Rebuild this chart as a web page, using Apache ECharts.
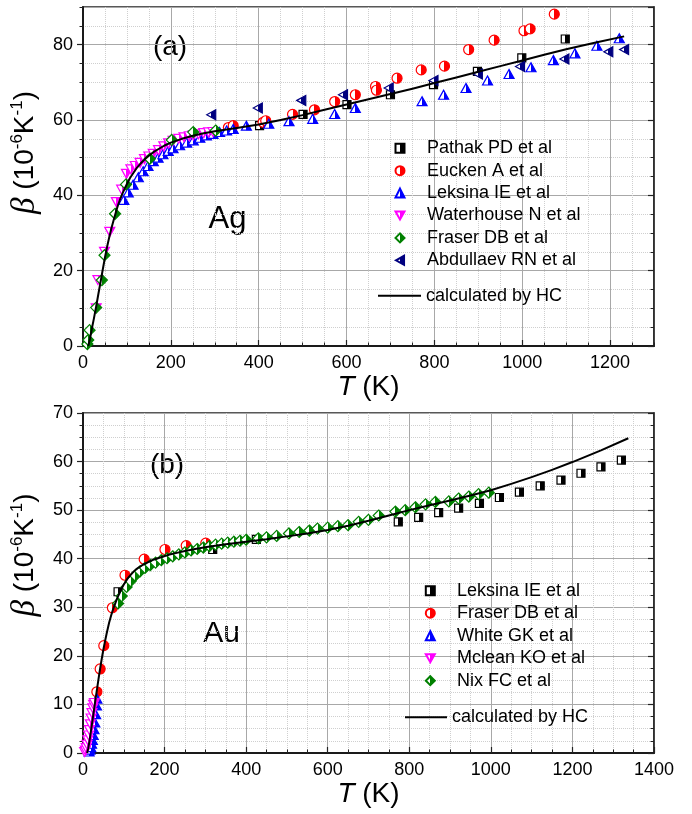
<!DOCTYPE html>
<html><head><meta charset="utf-8">
<script src="https://cdn.jsdelivr.net/npm/echarts@6/dist/echarts.min.js"></script>
<style>html,body{margin:0;padding:0;background:#fff}#c{width:692px;height:814px}</style>
</head><body><div id="c"></div>
<script>
// ---------- Panel (a): Ag ----------
const agPathak = [[402,58.5],[501,61.5],[601,64.1],[700,66.7],[798,69.4],[898,72.9],[999,76.5],[1098,81.5]];
const agEucken = [[331,58.0],[342,58.5],[410,59.4],[416,59.8],[477,61.5],[527,62.7],[573,64.9],[620,66.7],[666,68.9],[668,67.9],[715,71.1],[770,73.3],[823,74.3],[878,78.7],[936,81.2],[1004,83.7],[1018,84.2],[1073,88.1]];
const agLeksina = [[93,38.8],[103,40.8],[114,42.8],[126,44.8],[137,46.4],[148,47.8],[160,49.1],[171,50.0],[182,50.9],[194,51.8],[205,52.5],[220,53.3],[236,54.0],[251,54.6],[266,55.3],[281,55.9],[296,56.3],[311,56.8],[327,57.2],[342,57.6],[372,58.5],[423,59.0],[469,59.7],[523,60.3],[573,61.6],[620,63.2],[772,65.0],[821,66.7],[872,68.5],[921,70.5],[970,72.2],[1020,74.0],[1071,75.9],[1120,77.7],[1170,79.7],[1221,81.7]];
const agWaterhouse = [[30,10.0],[34,17.5],[49,25.0],[61,30.3],[76,38.2],[88,41.5],[99,45.7],[109,46.9],[119,47.8],[130,48.6],[140,49.6],[150,50.3],[160,51.0],[172,52.0],[184,53.0],[195,53.8],[205,54.5],[218,55.0],[230,55.4],[242,55.7],[251,55.9],[263,56.2],[275,56.5],[286,56.7],[296,56.8]];
const agFraser = [[10,0.5],[12,1.6],[15,4.2],[30,10.2],[43,17.5],[49,24.1],[73,35.1],[98,42.9],[152,49.7],[202,54.7],[251,56.8],[302,57.2]];
const agAbdullaev = [[292,61.4],[398,63.2],[497,65.2],[592,66.7],[696,68.5],[798,70.5],[899,72.2],[995,74.2],[1096,76.2],[1196,78.1],[1232,78.7]];
const agHC = [[12,0],[16,2],[20,4.5],[25,7.4],[30,10.5],[35,13.8],[40,17],[45,20.3],[50,23.5],[55,26.4],[60,29],[65,31.4],[70,33.5],[75,35.6],[80,37.5],[85,39.1],[90,40.5],[95,41.8],[100,43],[107,44.6],[115,46],[122,47.2],[130,48.3],[140,49.5],[150,50.5],[162,51.6],[175,52.5],[187,53.3],[200,54],[225,55],[250,55.8],[275,56.5],[300,57],[350,57.9],[400,58.8],[450,60],[500,61.3],[550,62.7],[600,64.1],[650,65.5],[700,66.9],[750,68.3],[800,69.8],[850,71.3],[900,72.8],[950,74.3],[1000,75.8],[1050,77.3],[1100,78.8],[1165,80.5],[1232,82.2]];

// ---------- Panel (b): Au ----------
const auLeksina = [[86,33.2],[318,41.9],[425,44.0],[773,47.6],[823,48.5],[872,49.5],[921,50.4],[972,51.4],[1021,52.6],[1070,53.7],[1121,55.0],[1172,56.2],[1221,57.6],[1270,58.9],[1320,60.3]];
const auFraser = [[34,12.6],[42,17.3],[51,22.1],[72,29.9],[103,36.6],[150,39.9],[201,41.9],[253,42.7],[301,43.2]];
const auWhite = [[15,0.3],[17,0.7],[19,1.2],[21,1.9],[23,2.7],[25,3.7],[27,4.9],[29,6.3],[31,8.0],[33,9.8],[34,11.2]];
const auMclean = [[4,0.2],[6,0.5],[8,1.0],[10,1.7],[12,2.6],[14,3.6],[16,4.7],[18,5.9],[20,7.1],[22,8.2],[24,9.2],[26,9.9],[28,10.3]];
const auNix = [[86,30.8],[95,32.3],[107,34.2],[117,35.4],[128,36.5],[140,37.4],[152,38.1],[165,38.7],[178,39.2],[192,39.7],[206,40.1],[220,40.5],[235,40.9],[250,41.3],[265,41.7],[280,42.0],[295,42.3],[310,42.6],[325,42.9],[340,43.1],[355,43.3],[370,43.5],[385,43.7],[400,43.9],[430,44.2],[450,44.4],[475,44.7],[505,45.2],[530,45.5],[555,45.8],[575,46.2],[600,46.4],[625,46.7],[650,46.9],[676,47.6],[700,48.0],[725,48.9],[766,49.7],[790,50.0],[815,50.6],[840,51.2],[864,51.7],[897,51.8],[921,52.4],[946,52.8],[970,53.3],[995,53.6]];
const auHC = [[10,0],[13,1],[16,2.5],[20,4.8],[24,7.1],[28,9.5],[32,11.8],[35,13.5],[38,15.2],[42,17.4],[46,19.4],[50,21.3],[54,23],[58,24.6],[64,26.8],[70,28.6],[75,29.9],[80,31],[85,32.1],[90,33],[95,33.9],[100,34.7],[110,36],[120,37],[130,37.8],[140,38.4],[150,38.9],[160,39.3],[170,39.7],[180,40],[195,40.4],[210,40.8],[230,41.2],[250,41.6],[275,42],[303,42.4],[350,43],[400,43.5],[450,44],[500,44.6],[550,45.2],[600,45.9],[650,46.8],[700,47.8],[750,48.9],[800,50],[850,51],[900,52],[950,53],[1000,54.1],[1050,55.4],[1100,56.8],[1150,58.3],[1200,59.9],[1270,62.3],[1337,64.8]];

// tick settings
const agXTicks = {max:1300, major:200, minor:50};
const agYTicks = {max:90, major:20, minor:5};
const auXTicks = {max:1400, major:200, minor:50};
const auYTicks = {max:70, major:10, minor:2.5};

const FONT = 'Liberation Sans';
const chart = echarts.init(document.getElementById('c'));

function half(c){
  return new echarts.graphic.LinearGradient(0,0,1,0,[
    {offset:0,color:'#fff'},{offset:0.5,color:'#fff'},{offset:0.5,color:c},{offset:1,color:c}]);
}
const SQ='rect', CI='circle', TU='triangle', DI='diamond';
const TD='path://M0,0L10,0L5,9Z', TL='path://M0,5L9,0L9,10Z';
const LINEICON='path://M0,0L43,0L43,2L0,2Z';

const grids = [
  {left:83, top:7, width:571, height:339},
  {left:83, top:413, width:571, height:340}
];
grids.forEach(g=>{g.show=true; g.borderColor='#222'; g.borderWidth=1.5; g.backgroundColor='transparent';});

const xName = '{i|T}{n| (K)}';
const yName = '{b|β}{n| (10}{s|-6}{n|K}{s|-1}{n|)}';
const xRich = {i:{fontFamily:FONT,fontStyle:'italic',fontSize:28,color:'#000'}, n:{fontFamily:FONT,fontSize:28,color:'#000'}};
const yRich = {b:{fontFamily:'Liberation Serif',fontStyle:'italic',fontSize:33,color:'#000',lineHeight:34},
  n:{fontFamily:FONT,fontSize:28,color:'#000',lineHeight:34},
  s:{fontFamily:FONT,fontSize:17,color:'#000',lineHeight:17,verticalAlign:'top'}};
const plain = v => String(v);

const xAxes=[], yAxes=[];
function addAxes(gi, xt, yt, yShift){
  xAxes.push({type:'value', gridIndex:gi, position:'bottom', min:0, max:xt.max, interval:xt.minor,
    axisLine:{show:false,onZero:false}, axisLabel:{show:false},
    axisTick:{show:true,inside:true,length:3.5,lineStyle:{color:'#222',width:1}},
    splitLine:{show:true,lineStyle:{color:'#cfcfcf',type:'dotted',width:1}}});
  xAxes.push({type:'value', gridIndex:gi, position:'bottom', min:0, max:xt.max, interval:xt.major,
    axisLine:{show:true,onZero:false,lineStyle:{color:'#1a1a1a',width:2}},
    axisTick:{show:true,inside:true,length:6,lineStyle:{color:'#222',width:1.2}},
    axisLabel:{show:true,margin:8,fontFamily:FONT,fontSize:18,color:'#000',formatter:plain,showMaxLabel: xt.max % xt.major === 0},
    splitLine:{show:true,lineStyle:{color:'#a8a8a8',width:1}},
    name:xName, nameLocation:'middle', nameGap:16, nameTextStyle:{rich:xRich}});
  yAxes.push({type:'value', gridIndex:gi, position:'left', min:0, max:yt.max, interval:yt.minor,
    axisLine:{show:false,onZero:false}, axisLabel:{show:false},
    axisTick:{show:true,inside:false,length:3.5,lineStyle:{color:'#222',width:1}},
    splitLine:{show:true,lineStyle:{color:'#cfcfcf',type:'dotted',width:1}}});
  yAxes.push({type:'value', gridIndex:gi, position:'left', min:0, max:yt.max, interval:yt.major,
    axisLine:{show:true,onZero:false,lineStyle:{color:'#1a1a1a',width:2}},
    axisTick:{show:true,inside:false,length:6,lineStyle:{color:'#222',width:1.2}},
    axisLabel:{show:true,margin:10,fontFamily:FONT,fontSize:18,color:'#000',formatter:plain,showMaxLabel: yt.max % yt.major === 0},
    splitLine:{show:true,lineStyle:{color:'#a8a8a8',width:1}},
    name:yName, nameLocation:'middle', nameGap:29, nameRotate:90,
    nameTextStyle:{rich:yRich, padding:[0,0,0,yShift]}});
  yAxes.push({type:'value', gridIndex:gi, position:'right', min:0, max:yt.max, interval:yt.minor,
    axisLine:{show:false,onZero:false}, axisLabel:{show:false}, splitLine:{show:false},
    axisTick:{show:true,inside:true,length:3.5,lineStyle:{color:'#222',width:1}}});
  yAxes.push({type:'value', gridIndex:gi, position:'right', min:0, max:yt.max, interval:yt.major,
    axisLine:{show:true,onZero:false,lineStyle:{color:'#222',width:1.5}}, axisLabel:{show:false}, splitLine:{show:false},
    axisTick:{show:true,inside:true,length:6,lineStyle:{color:'#222',width:1.2}}});
}
addAxes(0, agXTicks, agYTicks, 48);
addAxes(1, auXTicks, auYTicks, 56);

function sc(name, data, sym, size, color, gi){
  return {type:'scatter', name, data, symbol:sym, symbolSize:size,
    xAxisIndex: gi*2+1, yAxisIndex: gi*4+1,
    itemStyle:{color:half(color), borderColor:color, borderWidth:1.2, opacity:1}, z:3};
}
function ln(name, data, gi){
  return {type:'line', name, data, showSymbol:false, symbol:'none', smooth:false,
    xAxisIndex: gi*2+1, yAxisIndex: gi*4+1,
    lineStyle:{color:'#000', width:2, join:'round'}, itemStyle:{color:'#000'}, z:5};
}

const series = [
  sc('a:Pathak PD et al', agPathak, SQ, 8, '#000000', 0),
  sc('a:Eucken A et al', agEucken, CI, 10, '#ff0000', 0),
  sc('a:Leksina IE et al', agLeksina, TU, [10,9], '#0000ff', 0),
  sc('a:Waterhouse N et al', agWaterhouse, TD, [10,9], '#ff00ff', 0),
  sc('a:Fraser DB et al', agFraser, DI, [11,11], '#008000', 0),
  sc('a:Abdullaev RN et al', agAbdullaev, TL, [9,10], '#000080', 0),
  ln('a:calculated by HC', agHC, 0),
  sc('b:Leksina IE et al', auLeksina, SQ, 8, '#000000', 1),
  sc('b:Fraser DB et al', auFraser, CI, 10, '#ff0000', 1),
  sc('b:White GK et al', auWhite, TU, [10,9], '#0000ff', 1),
  sc('b:Mclean KO et al', auMclean, TD, [10,9], '#ff00ff', 1),
  sc('b:Nix FC et al', auNix, DI, [11,11], '#008000', 1),
  ln('b:calculated by HC', auHC, 1)
];

const legText = {fontFamily:FONT, fontSize:18, lineHeight:20, color:'#000'};
const strip = n => n.slice(2);
const legend = [
  {data:['a:Pathak PD et al','a:Eucken A et al','a:Leksina IE et al','a:Waterhouse N et al','a:Fraser DB et al','a:Abdullaev RN et al'],
   orient:'vertical', left:394.5, top:138.3, itemWidth:9, itemHeight:9, itemGap:2.4, padding:0,
   textStyle:Object.assign({padding:[0,0,0,17.5]}, legText), formatter:strip, selectedMode:false},
  {data:[{name:'a:calculated by HC', icon:LINEICON}], orient:'vertical', left:378, top:285.7, itemWidth:43, itemHeight:20, padding:0,
   textStyle:legText, formatter:strip, selectedMode:false},
  {data:['b:Leksina IE et al','b:Fraser DB et al','b:White GK et al','b:Mclean KO et al','b:Nix FC et al'],
   orient:'vertical', left:424.8, top:580.7, itemWidth:9, itemHeight:9, itemGap:2.5, padding:0,
   textStyle:Object.assign({padding:[0,0,0,17.2]}, legText), formatter:strip, selectedMode:false},
  {data:[{name:'b:calculated by HC', icon:LINEICON}], orient:'vertical', left:405, top:707.3, itemWidth:42, itemHeight:20, padding:0,
   textStyle:legText, formatter:strip, selectedMode:false}
];

const graphic = [
  {type:'text', x:170, y:47, style:{text:'(a)', fontFamily:FONT, fontSize:28, fill:'#000', align:'center', verticalAlign:'middle'}},
  {type:'text', x:227.5, y:219.5, style:{text:'Ag', fontFamily:FONT, fontSize:31, fill:'#000', align:'center', verticalAlign:'middle'}},
  {type:'text', x:167, y:465, style:{text:'(b)', fontFamily:FONT, fontSize:28, fill:'#000', align:'center', verticalAlign:'middle'}},
  {type:'text', x:221.5, y:633.5, style:{text:'Au', fontFamily:FONT, fontSize:30, fill:'#000', align:'center', verticalAlign:'middle'}}
];

chart.setOption({animation:false, backgroundColor:'#fff', grid:grids, xAxis:xAxes, yAxis:yAxes, series, legend, graphic});
</script></body></html>
